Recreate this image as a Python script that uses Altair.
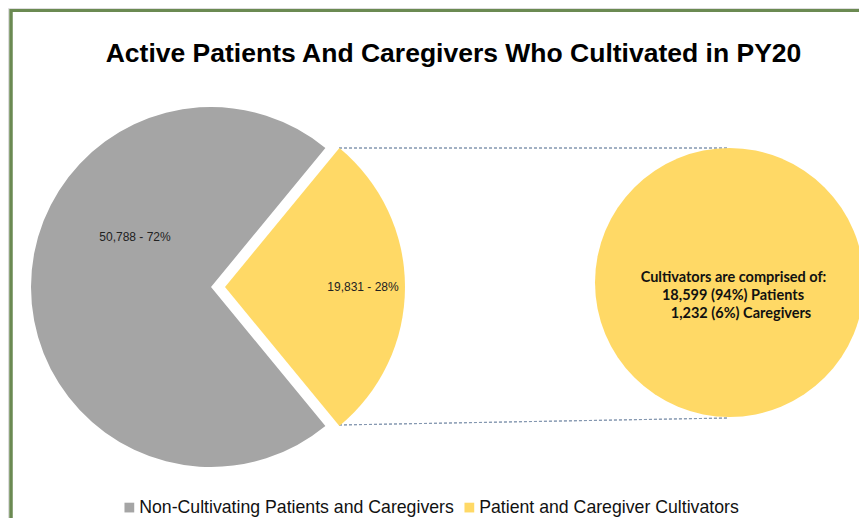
import math
import altair as alt
import pandas as pd

# ---- data ----
categories = ["Non-Cultivating Patients and Caregivers", "Patient and Caregiver Cultivators"]
values = [50788, 19831]
slice_order = [1, 0]
breakdown_labels = ["Patients", "Caregivers"]
breakdown_values = [18599, 1232]
breakdown_heading = "Cultivators are comprised of:"
title_text = "Active Patients And Caregivers Who Cultivated in PY20"
colors = ["#a5a5a5", "#ffd966"]

total = sum(values)
pct = [round(100 * v / total) for v in values]
slice_labels = [f"{v:,} - {p}%" for v, p in zip(values, pct)]
sub_total = sum(breakdown_values)
breakdown_lines = [breakdown_heading] + [
    f"{v:,} ({round(100 * v / sub_total)}%) {lab}" for v, lab in zip(breakdown_values, breakdown_labels)
]

df = pd.DataFrame({"category": categories, "value": values, "order": slice_order, "label": slice_labels})
lines_df = pd.DataFrame({"line": breakdown_lines, "idx": list(range(len(breakdown_lines)))})
title_df = pd.DataFrame({"title": [title_text]})

# ---- layout helpers (reference px -> chart px) ----
def X(rx):
    return rx - 8
def Y(ry):
    return ry - 8

a0 = math.pi / 2 - math.pi * values[1] / total
theta_scale = alt.Scale(domain=[0, total], range=[a0, a0 + 2 * math.pi])
color_scale = alt.Scale(domain=categories, range=colors)
legend = alt.Legend(
    orient="none", legendX=X(120.5), legendY=Y(498.5), direction="horizontal", title=None,
    symbolType="square", symbolSize=95, symbolStrokeWidth=0, symbolOpacity=1,
    labelFontSize=17.7, labelFont="Liberation Sans", labelColor="#111111",
    labelOffset=1, columnPadding=6, labelLimit=400,
)

base = (
    alt.Chart(df)
    .transform_window(end="sum(value)", sort=[alt.SortField("order")])
    .transform_calculate(start="datum.end - datum.value")
)

def slice_layer(i, cx):
    return (
        base.transform_filter(alt.datum.category == categories[i])
        .mark_arc(outerRadius=180, stroke=None)
        .encode(
            theta=alt.Theta("start:Q", scale=theta_scale),
            theta2="end:Q",
            color=alt.Color("category:N", scale=color_scale, legend=legend),
            x=alt.value(X(cx)),
            y=alt.value(Y(287)),
        )
    )

gray = slice_layer(0, 211)
yellow = slice_layer(1, 225)

def label_layer(i, rx, ry):
    return (
        alt.Chart(df)
        .transform_filter(alt.datum.category == categories[i])
        .mark_text(font="Liberation Sans", fontSize=12, color="#222222", align="center", baseline="middle")
        .encode(text="label:N", x=alt.value(X(rx)), y=alt.value(Y(ry)))
    )

gray_label = label_layer(0, 135, 237)
yellow_label = label_layer(1, 363, 287)

R2 = 134.5
big_circle = (
    alt.Chart(df)
    .transform_filter(alt.datum.category == categories[1])
    .mark_circle(opacity=1, size=(2 * R2) ** 2)
    .encode(color=alt.Color("category:N", scale=color_scale, legend=legend),
            x=alt.value(X(729.5)), y=alt.value(Y(282.5)))
)

line_x = [733.5, 733, 741]
line_y = [281.7, 300, 318]
circle_text = alt.layer(*[
    alt.Chart(lines_df)
    .transform_filter(alt.datum.idx == i)
    .mark_text(font="Lato", fontWeight="bold", fontSize=14.5, color="#111111", align="center", baseline="alphabetic")
    .encode(text="line:N", x=alt.value(X(line_x[i])), y=alt.value(Y(line_y[i])))
    for i in range(len(breakdown_lines))
])

title = (
    alt.Chart(title_df)
    .mark_text(font="Liberation Sans", fontSize=26.5, fontWeight="bold", color="#000000",
               align="center", baseline="alphabetic")
    .encode(text="title:N", x=alt.value(X(453.5)), y=alt.value(Y(62)))
)

conn_style = dict(color="#8497b0", strokeDash=[3, 2], strokeWidth=1)
conn_top = alt.Chart(df).mark_rule(**conn_style).encode(
    x=alt.value(X(339)), x2=alt.value(X(728)), y=alt.value(Y(148)), y2=alt.value(Y(148)))
conn_bot = alt.Chart(df).mark_rule(**conn_style).encode(
    x=alt.value(X(339)), x2=alt.value(X(728)), y=alt.value(Y(425)), y2=alt.value(Y(418)))

frame_style = dict(color="#6b8a52", strokeWidth=3)
frame_top = alt.Chart(df).mark_rule(**frame_style).encode(
    x=alt.value(X(10)), x2=alt.value(X(880)), y=alt.value(Y(10.5)), y2=alt.value(Y(10.5)))
frame_left = alt.Chart(df).mark_rule(**frame_style).encode(
    x=alt.value(X(11)), x2=alt.value(X(11)), y=alt.value(Y(9)), y2=alt.value(Y(540)))

chart = (
    alt.layer(frame_top, frame_left, conn_top, conn_bot, gray, yellow, big_circle,
              gray_label, yellow_label, circle_text, title)
    .properties(
        width=851, height=510,
        autosize=alt.AutoSizeParams(type="none"),
        padding=0,
    )
    .configure_view(strokeWidth=0, strokeOpacity=0)
    .configure(background="white")
)

chart.save("out.html", embed_options={"renderer": "svg", "actions": False})
